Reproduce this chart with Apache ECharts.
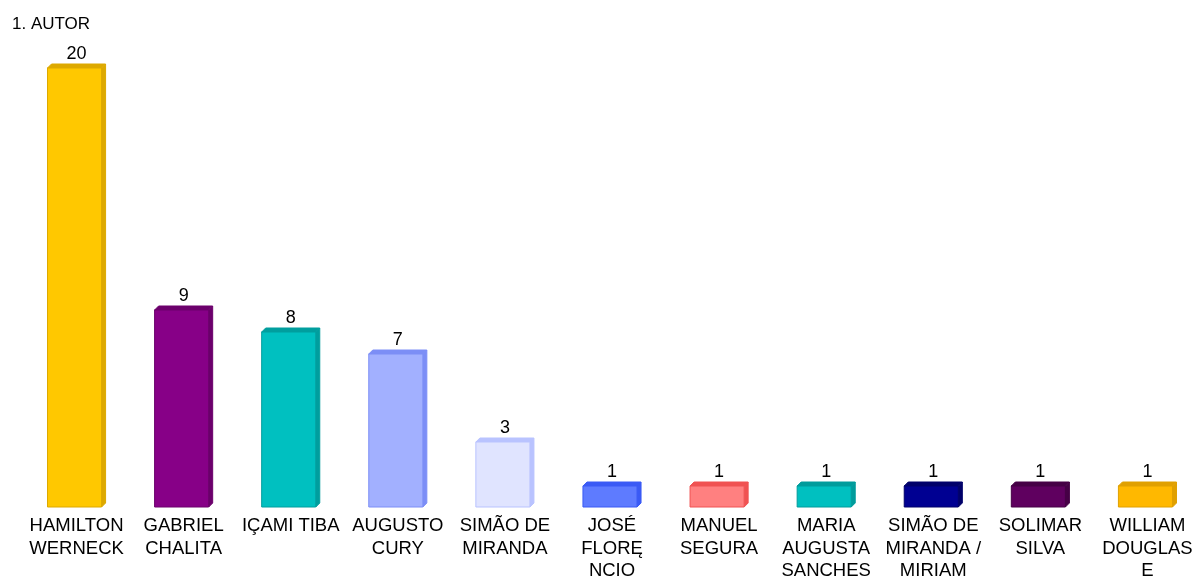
<!DOCTYPE html>
<html>
<head>
<meta charset="utf-8">
<script src="https://cdn.jsdelivr.net/npm/echarts@6/dist/echarts.min.js"></script>
<style>
html,body{margin:0;padding:0;background:#fff;}
#chartAutor{width:1192px;height:577px;}
</style>
</head>
<body>
<div id="chartAutor"></div>
<script>
// 1. AUTOR
var autores = ['HAMILTON\nWERNECK', 'GABRIEL\nCHALITA', 'IÇAMI TIBA', 'AUGUSTO\nCURY', 'SIMÃO DE\nMIRANDA',
               'JOSÉ\nFLORĘ\nNCIO', 'MANUEL\nSEGURA', 'MARIA\nAUGUSTA\nSANCHES', 'SIMÃO DE\nMIRANDA /\nMIRIAM',
               'SOLIMAR\nSILVA', 'WILLIAM\nDOUGLAS\nE'];
var qtd = [20, 9, 8, 7, 3, 1, 1, 1, 1, 1, 1];
var corFrente = ['#FFC800', '#870087', '#00C0C0', '#A2B0FF', '#E0E4FF', '#5E7BFF', '#FF8080', '#00C0C0', '#000092', '#5F005F', '#FFB800'];
var corLado = ['#DDA900', '#6C006C', '#009E9E', '#7C8EF6', '#B9C3FF', '#3A5AF5', '#F05252', '#009C9C', '#00006A', '#460046', '#E0A000'];

var chartAutor = echarts.init(document.getElementById('chartAutor'));

function barra3d(params, api){
    var i = params.dataIndex;
    var base = api.coord([api.value(0), 0]);
    var topo = api.coord([api.value(0), api.value(1)]);
    var banda = api.size([1, 0])[0];
    var w = banda * 0.505;
    var d = 4;
    var x1 = base[0] - (w + d) / 2;
    var x2 = x1 + w;
    var yb = base[1];
    var yt = topo[1] + 1;
    return {
        type: 'group',
        children: [
            {
                type: 'polygon',
                shape: {points: [[x2, yt], [x2 + d, yt - d], [x2 + d, yb - d], [x2, yb]]},
                style: {fill: corLado[i], stroke: corLado[i], lineWidth: 1}
            },
            {
                type: 'polygon',
                shape: {points: [[x1, yt], [x1 + d, yt - d], [x2 + d, yt - d], [x2, yt]]},
                style: {fill: corLado[i], stroke: corLado[i], lineWidth: 1}
            },
            {
                type: 'rect',
                shape: {x: x1, y: yt, width: w, height: yb - yt},
                style: {fill: corFrente[i], stroke: corLado[i], lineWidth: 1}
            },
            {
                type: 'text',
                style: {
                    x: base[0], y: yt - 5,
                    text: String(api.value(1)),
                    fill: '#000',
                    font: '18px "Liberation Sans", Arial, sans-serif',
                    align: 'center', verticalAlign: 'bottom'
                }
            }
        ]
    };
}

var optionAutor = {
    animation: false,
    title: {
        text: '1. AUTOR',
        left: 7, top: 11,
        textStyle: {fontSize: 17, fontWeight: 'normal', color: '#000', fontFamily: '"Liberation Sans", Arial, sans-serif'}
    },
    grid: {left: 23, right: -9, top: 67, bottom: 70, outerBoundsMode: 'none', containLabel: false},
    xAxis: {
        type: 'category',
        data: autores,
        axisLine: {show: false},
        axisTick: {show: false},
        axisLabel: {
            interval: 0, margin: 8, color: '#000',
            fontSize: 18.5, lineHeight: 22.5,
            fontFamily: '"Liberation Sans", Arial, sans-serif'
        }
    },
    yAxis: {type: 'value', min: 0, max: 20, show: false},
    series: [
        {
            name: '1. AUTOR',
            type: 'custom',
            renderItem: barra3d,
            encode: {x: 0, y: 1},
            data: qtd.map(function(v, i){ return [i, v]; })
        }
    ]
};
chartAutor.setOption(optionAutor);
</script>
</body>
</html>
